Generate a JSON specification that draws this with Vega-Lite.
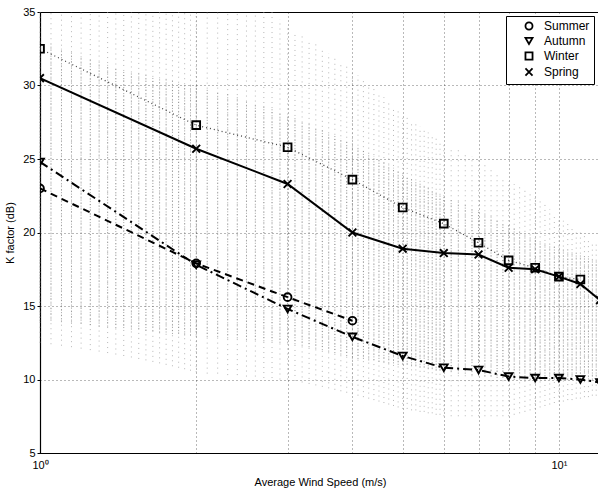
{
  "$schema": "https://vega.github.io/schema/vega-lite/v6.json",
  "width": 560,
  "height": 441,
  "autosize": "none",
  "padding": {"left": 40, "top": 12, "right": 0, "bottom": 40},
  "config": {
    "view": {"stroke": "black", "strokeWidth": 1},
    "font": "Liberation Sans",
    "axis": {
      "labelFont": "Liberation Sans", "titleFont": "Liberation Sans",
      "labelFontSize": 11, "titleFontSize": 11, "titleFontWeight": "normal",
      "labelColor": "black", "titleColor": "black",
      "domainColor": "black", "domainWidth": 1.2,
      "grid": true, "gridColor": "black", "gridDash": [1, 3], "gridOpacity": 0.55,
      "labelFlush": false
    }
  },
  "datasets": {
    "cloud": [
      {"ws": 1.0, "lo": 12.5, "hi": 35, "clo": 14, "chi": 33},
      {"ws": 1.05, "lo": 12.4, "hi": 35, "clo": 14, "chi": 32.8},
      {"ws": 1.1, "lo": 12.3, "hi": 35, "clo": 13.9, "chi": 32.5},
      {"ws": 1.15, "lo": 12.2, "hi": 35, "clo": 13.8, "chi": 32.3},
      {"ws": 1.2, "lo": 12.1, "hi": 35, "clo": 13.8, "chi": 32},
      {"ws": 1.25, "lo": 12, "hi": 35, "clo": 13.7, "chi": 31.8},
      {"ws": 1.3, "lo": 11.9, "hi": 35, "clo": 13.6, "chi": 31.6},
      {"ws": 1.35, "lo": 11.8, "hi": 35, "clo": 13.6, "chi": 31.4},
      {"ws": 1.4, "lo": 11.7, "hi": 35, "clo": 13.5, "chi": 31.2},
      {"ws": 1.45, "lo": 11.6, "hi": 35, "clo": 13.5, "chi": 31},
      {"ws": 1.5, "lo": 11.5, "hi": 35, "clo": 13.4, "chi": 30.9},
      {"ws": 1.55, "lo": 11.4, "hi": 35, "clo": 13.4, "chi": 30.8},
      {"ws": 1.6, "lo": 11.3, "hi": 35, "clo": 13.3, "chi": 30.7},
      {"ws": 1.65, "lo": 11.2, "hi": 35, "clo": 13.3, "chi": 30.6},
      {"ws": 1.7, "lo": 11.1, "hi": 35, "clo": 13.2, "chi": 30.5},
      {"ws": 1.75, "lo": 11, "hi": 35, "clo": 13.2, "chi": 30.4},
      {"ws": 1.8, "lo": 10.9, "hi": 35, "clo": 13.1, "chi": 30.3},
      {"ws": 1.85, "lo": 10.8, "hi": 35, "clo": 13.1, "chi": 30.2},
      {"ws": 1.9, "lo": 10.7, "hi": 35, "clo": 13, "chi": 30.1},
      {"ws": 1.95, "lo": 10.6, "hi": 35, "clo": 13, "chi": 30},
      {"ws": 2.0, "lo": 10.5, "hi": 35, "clo": 13, "chi": 30},
      {"ws": 2.1, "lo": 10.4, "hi": 35, "clo": 12.9, "chi": 29.8},
      {"ws": 2.2, "lo": 10.4, "hi": 35, "clo": 12.9, "chi": 29.6},
      {"ws": 2.3, "lo": 10.3, "hi": 35, "clo": 12.8, "chi": 29.4},
      {"ws": 2.4, "lo": 10.3, "hi": 35, "clo": 12.8, "chi": 29.2},
      {"ws": 2.5, "lo": 10.2, "hi": 35, "clo": 12.7, "chi": 29},
      {"ws": 2.6, "lo": 10.2, "hi": 35, "clo": 12.7, "chi": 28.8},
      {"ws": 2.7, "lo": 10.1, "hi": 35, "clo": 12.6, "chi": 28.6},
      {"ws": 2.8, "lo": 10.1, "hi": 35, "clo": 12.6, "chi": 28.4},
      {"ws": 2.9, "lo": 10, "hi": 34.5, "clo": 12.5, "chi": 28.2},
      {"ws": 3.0, "lo": 10, "hi": 34, "clo": 12.5, "chi": 28},
      {"ws": 3.1, "lo": 9.9, "hi": 33.7, "clo": 12.4, "chi": 27.8},
      {"ws": 3.2, "lo": 9.8, "hi": 33.4, "clo": 12.3, "chi": 27.6},
      {"ws": 3.3, "lo": 9.7, "hi": 33.1, "clo": 12.2, "chi": 27.4},
      {"ws": 3.4, "lo": 9.6, "hi": 32.8, "clo": 12.1, "chi": 27.2},
      {"ws": 3.5, "lo": 9.5, "hi": 32.5, "clo": 12, "chi": 27},
      {"ws": 3.6, "lo": 9.4, "hi": 32.2, "clo": 11.9, "chi": 26.8},
      {"ws": 3.7, "lo": 9.3, "hi": 31.9, "clo": 11.8, "chi": 26.6},
      {"ws": 3.8, "lo": 9.2, "hi": 31.6, "clo": 11.7, "chi": 26.4},
      {"ws": 3.9, "lo": 9.1, "hi": 31.3, "clo": 11.6, "chi": 26.2},
      {"ws": 4.0, "lo": 9, "hi": 31, "clo": 11.5, "chi": 26},
      {"ws": 4.1, "lo": 8.9, "hi": 30.7, "clo": 11.4, "chi": 25.8},
      {"ws": 4.2, "lo": 8.8, "hi": 30.4, "clo": 11.4, "chi": 25.6},
      {"ws": 4.3, "lo": 8.7, "hi": 30.1, "clo": 11.3, "chi": 25.4},
      {"ws": 4.4, "lo": 8.6, "hi": 29.8, "clo": 11.3, "chi": 25.2},
      {"ws": 4.5, "lo": 8.5, "hi": 29.5, "clo": 11.2, "chi": 25},
      {"ws": 4.6, "lo": 8.4, "hi": 29.2, "clo": 11.2, "chi": 24.8},
      {"ws": 4.7, "lo": 8.3, "hi": 28.9, "clo": 11.1, "chi": 24.6},
      {"ws": 4.8, "lo": 8.2, "hi": 28.6, "clo": 11.1, "chi": 24.4},
      {"ws": 4.9, "lo": 8.1, "hi": 28.3, "clo": 11, "chi": 24.2},
      {"ws": 5.0, "lo": 8, "hi": 28, "clo": 11, "chi": 24},
      {"ws": 5.1, "lo": 8, "hi": 27.8, "clo": 11, "chi": 23.8},
      {"ws": 5.2, "lo": 7.9, "hi": 27.6, "clo": 10.9, "chi": 23.7},
      {"ws": 5.3, "lo": 7.9, "hi": 27.4, "clo": 10.9, "chi": 23.5},
      {"ws": 5.4, "lo": 7.8, "hi": 27.2, "clo": 10.8, "chi": 23.4},
      {"ws": 5.5, "lo": 7.8, "hi": 27, "clo": 10.8, "chi": 23.2},
      {"ws": 5.6, "lo": 7.7, "hi": 26.8, "clo": 10.7, "chi": 23.1},
      {"ws": 5.7, "lo": 7.7, "hi": 26.6, "clo": 10.7, "chi": 22.9},
      {"ws": 5.8, "lo": 7.6, "hi": 26.4, "clo": 10.6, "chi": 22.8},
      {"ws": 5.9, "lo": 7.6, "hi": 26.2, "clo": 10.6, "chi": 22.6},
      {"ws": 6.0, "lo": 7.5, "hi": 26, "clo": 10.5, "chi": 22.5},
      {"ws": 6.2, "lo": 7.5, "hi": 25.8, "clo": 10.5, "chi": 22.3},
      {"ws": 6.4, "lo": 7.5, "hi": 25.6, "clo": 10.4, "chi": 22.1},
      {"ws": 6.6, "lo": 7.5, "hi": 25.4, "clo": 10.4, "chi": 21.9},
      {"ws": 6.8, "lo": 7.5, "hi": 25.2, "clo": 10.3, "chi": 21.7},
      {"ws": 7.0, "lo": 7.5, "hi": 25, "clo": 10.3, "chi": 21.5},
      {"ws": 7.2, "lo": 7.5, "hi": 24.7, "clo": 10.2, "chi": 21.3},
      {"ws": 7.4, "lo": 7.5, "hi": 24.4, "clo": 10.2, "chi": 21.1},
      {"ws": 7.6, "lo": 7.5, "hi": 24.1, "clo": 10.1, "chi": 20.9},
      {"ws": 7.8, "lo": 7.5, "hi": 23.8, "clo": 10.1, "chi": 20.7},
      {"ws": 8.0, "lo": 7.5, "hi": 23.5, "clo": 10, "chi": 20.5},
      {"ws": 8.2, "lo": 7.6, "hi": 23.3, "clo": 10, "chi": 20.3},
      {"ws": 8.4, "lo": 7.7, "hi": 23.1, "clo": 10, "chi": 20.1},
      {"ws": 8.6, "lo": 7.8, "hi": 22.9, "clo": 10, "chi": 19.9},
      {"ws": 8.8, "lo": 7.9, "hi": 22.7, "clo": 10, "chi": 19.7},
      {"ws": 9.0, "lo": 8, "hi": 22.5, "clo": 10, "chi": 19.5},
      {"ws": 9.2, "lo": 8.1, "hi": 22.2, "clo": 10, "chi": 19.4},
      {"ws": 9.4, "lo": 8.2, "hi": 21.9, "clo": 10, "chi": 19.3},
      {"ws": 9.6, "lo": 8.3, "hi": 21.6, "clo": 10, "chi": 19.2},
      {"ws": 9.8, "lo": 8.4, "hi": 21.3, "clo": 10, "chi": 19.1},
      {"ws": 10.0, "lo": 8.5, "hi": 21, "clo": 10, "chi": 19},
      {"ws": 10.2, "lo": 8.5, "hi": 20.8, "clo": 10, "chi": 18.9},
      {"ws": 10.4, "lo": 8.6, "hi": 20.6, "clo": 10, "chi": 18.8},
      {"ws": 10.6, "lo": 8.6, "hi": 20.4, "clo": 10, "chi": 18.7},
      {"ws": 10.8, "lo": 8.7, "hi": 20.2, "clo": 10, "chi": 18.6},
      {"ws": 11.0, "lo": 8.7, "hi": 20, "clo": 10, "chi": 18.5},
      {"ws": 11.2, "lo": 8.8, "hi": 19.8, "clo": 10, "chi": 18.4},
      {"ws": 11.4, "lo": 8.8, "hi": 19.6, "clo": 10, "chi": 18.3},
      {"ws": 11.6, "lo": 8.9, "hi": 19.4, "clo": 10, "chi": 18.2},
      {"ws": 11.8, "lo": 8.9, "hi": 19.2, "clo": 10, "chi": 18.1},
      {"ws": 12.0, "lo": 9, "hi": 19, "clo": 10, "chi": 18}
    ],
    "series": [
      {"season": "Summer", "ws": 1, "k": 23.0},
      {"season": "Summer", "ws": 2, "k": 17.9},
      {"season": "Summer", "ws": 3, "k": 15.6},
      {"season": "Summer", "ws": 4, "k": 14.0},
      {"season": "Autumn", "ws": 1, "k": 24.8},
      {"season": "Autumn", "ws": 2, "k": 17.8},
      {"season": "Autumn", "ws": 3, "k": 14.8},
      {"season": "Autumn", "ws": 4, "k": 12.9},
      {"season": "Autumn", "ws": 5, "k": 11.6},
      {"season": "Autumn", "ws": 6, "k": 10.8},
      {"season": "Autumn", "ws": 7, "k": 10.65},
      {"season": "Autumn", "ws": 8, "k": 10.2},
      {"season": "Autumn", "ws": 9, "k": 10.1},
      {"season": "Autumn", "ws": 10, "k": 10.1},
      {"season": "Autumn", "ws": 11, "k": 10.0},
      {"season": "Autumn", "ws": 12, "k": 9.8},
      {"season": "Winter", "ws": 1, "k": 32.5},
      {"season": "Winter", "ws": 2, "k": 27.3},
      {"season": "Winter", "ws": 3, "k": 25.8},
      {"season": "Winter", "ws": 4, "k": 23.6},
      {"season": "Winter", "ws": 5, "k": 21.7},
      {"season": "Winter", "ws": 6, "k": 20.6},
      {"season": "Winter", "ws": 7, "k": 19.3},
      {"season": "Winter", "ws": 8, "k": 18.1},
      {"season": "Winter", "ws": 9, "k": 17.6},
      {"season": "Winter", "ws": 10, "k": 17.0},
      {"season": "Winter", "ws": 11, "k": 16.8},
      {"season": "Spring", "ws": 1, "k": 30.5},
      {"season": "Spring", "ws": 2, "k": 25.7},
      {"season": "Spring", "ws": 3, "k": 23.3},
      {"season": "Spring", "ws": 4, "k": 20.0},
      {"season": "Spring", "ws": 5, "k": 18.9},
      {"season": "Spring", "ws": 6, "k": 18.6},
      {"season": "Spring", "ws": 7, "k": 18.5},
      {"season": "Spring", "ws": 8, "k": 17.6},
      {"season": "Spring", "ws": 9, "k": 17.5},
      {"season": "Spring", "ws": 10, "k": 17.0},
      {"season": "Spring", "ws": 11, "k": 16.5},
      {"season": "Spring", "ws": 12, "k": 15.4}
    ]
  },
  "layer": [
    {
      "data": {"name": "cloud"},
      "mark": {"type": "rule", "color": "#999999", "strokeWidth": 1, "strokeDash": [1, 4], "opacity": 0.7},
      "encoding": {
        "x": {"field": "ws", "type": "quantitative",
          "scale": {"type": "log", "domain": [1, 12], "nice": false},
          "axis": {
            "title": "Average Wind Speed (m/s)",
            "values": [1, 2, 3, 4, 5, 6, 7, 8, 9, 10],
            "labelExpr": "datum.value == 1 ? '10⁰' : (datum.value == 10 ? '10¹' : '')",
            "ticks": false, "labelPadding": 6, "titlePadding": 6
          }},
        "y": {"field": "lo", "type": "quantitative",
          "scale": {"domain": [5, 35], "nice": false},
          "axis": {
            "title": "K factor (dB)",
            "values": [5, 10, 15, 20, 25, 30, 35],
            "tickSize": 3, "tickColor": "black", "labelPadding": 2, "titlePadding": 7
          }},
        "y2": {"field": "hi"}
      }
    },
    {
      "data": {"name": "cloud"},
      "mark": {"type": "rule", "color": "#666666", "strokeWidth": 1, "strokeDash": [1, 2], "opacity": 0.6},
      "encoding": {
        "x": {"field": "ws", "type": "quantitative"},
        "y": {"field": "clo", "type": "quantitative"},
        "y2": {"field": "chi"}
      }
    },
    {
      "data": {"name": "series"},
      "transform": [{"filter": "datum.season == 'Summer'"}],
      "mark": {"type": "line", "clip": true, "color": "black", "strokeWidth": 2, "strokeDash": [7, 5]},
      "encoding": {"x": {"field": "ws", "type": "quantitative"}, "y": {"field": "k", "type": "quantitative"}}
    },
    {
      "data": {"name": "series"},
      "transform": [{"filter": "datum.season == 'Autumn'"}],
      "mark": {"type": "line", "clip": true, "color": "black", "strokeWidth": 2, "strokeDash": [9, 4, 2, 4]},
      "encoding": {"x": {"field": "ws", "type": "quantitative"}, "y": {"field": "k", "type": "quantitative"}}
    },
    {
      "data": {"name": "series"},
      "transform": [{"filter": "datum.season == 'Winter'"}],
      "mark": {"type": "line", "clip": true, "color": "#444444", "strokeWidth": 1.3, "strokeDash": [1, 3]},
      "encoding": {"x": {"field": "ws", "type": "quantitative"}, "y": {"field": "k", "type": "quantitative"}}
    },
    {
      "data": {"name": "series"},
      "transform": [{"filter": "datum.season == 'Spring'"}],
      "mark": {"type": "line", "clip": true, "color": "black", "strokeWidth": 2},
      "encoding": {"x": {"field": "ws", "type": "quantitative"}, "y": {"field": "k", "type": "quantitative"}}
    },
    {
      "data": {"name": "series"},
      "mark": {"type": "point", "clip": true, "filled": false, "color": "black", "strokeWidth": 1.9, "size": 60, "opacity": 1},
      "encoding": {
        "x": {"field": "ws", "type": "quantitative"},
        "y": {"field": "k", "type": "quantitative"},
        "shape": {"field": "season", "type": "nominal",
          "scale": {"domain": ["Summer", "Autumn", "Winter", "Spring"], "range": ["circle", "triangle-down", "square", "M-1,-1L1,1M-1,1L1,-1"]},
          "legend": {
            "title": null, "orient": "none", "legendX": 466, "legendY": 4,
            "strokeColor": "black", "fillColor": "white", "padding": 4,
            "labelFont": "Liberation Sans", "labelFontSize": 12, "labelColor": "black",
            "symbolSize": 50, "symbolOffset": 13, "labelOffset": 9, "rowPadding": 0,
            "symbolStrokeColor": "black", "symbolStrokeWidth": 1.8,
            "encode": {
              "symbols": {
                "update": {
                  "shape": {"signal": "datum.value == 'Summer' ? 'M-3,0L-1.1,0M1.1,0L3,0M1.1,0A1.1,1.1 0 1,1 -1.1,0A1.1,1.1 0 1,1 1.1,0' : (datum.value == 'Autumn' ? 'M-3,0L-2.6,0M2.6,0L3,0M-1.2,-1L1.2,-1L0,1.1Z' : (datum.value == 'Winter' ? 'M-3,0L-2.6,0M2.6,0L3,0M-0.9,-0.9L0.9,-0.9L0.9,0.9L-0.9,0.9Z' : 'M-3,0L3,0M-0.9,-0.9L0.9,0.9M-0.9,0.9L0.9,-0.9'))"},
                  "fill": {"signal": "datum.value == 'Autumn' ? 'black' : 'transparent'"},
                  "stroke": {"value": "black"},
                  "strokeWidth": {"value": 1.8},
                  "opacity": {"value": 1}
                }
              }
            }
          }
        }
      }
    }
  ]
}
